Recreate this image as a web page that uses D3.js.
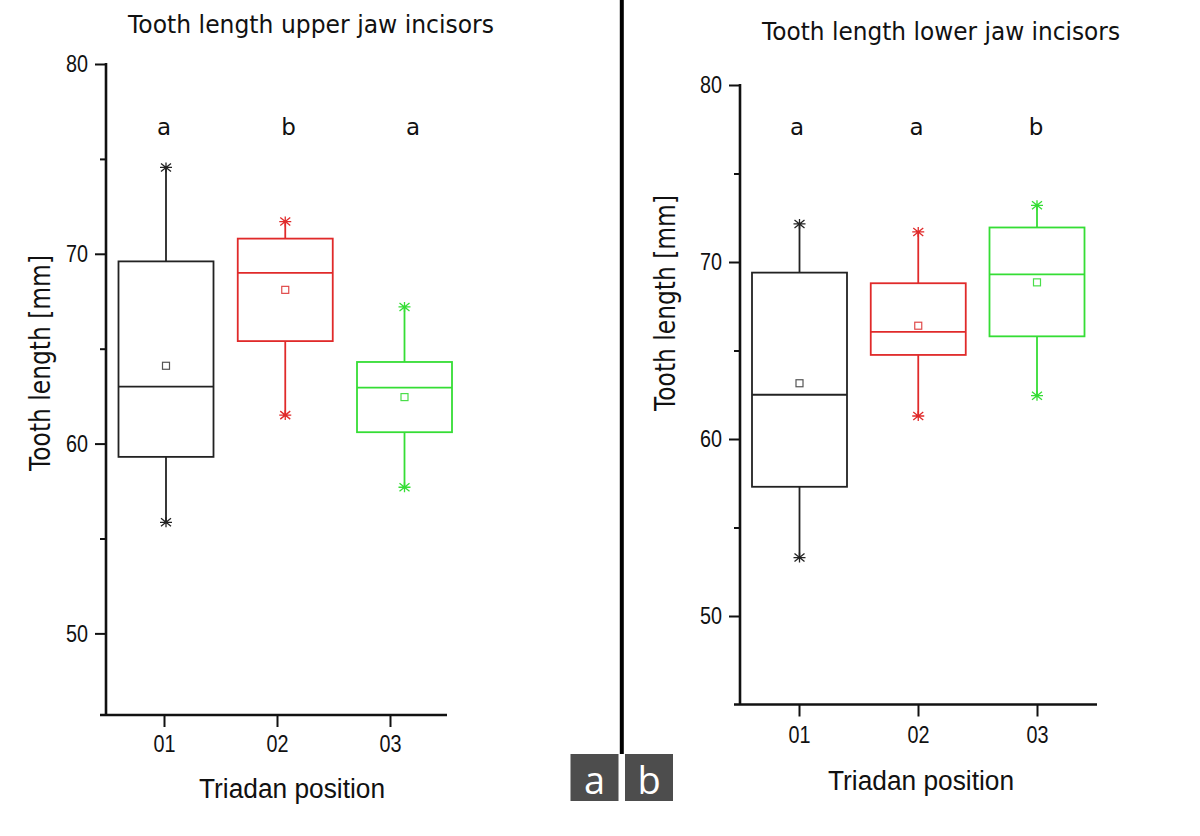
<!DOCTYPE html>
<html><head><meta charset="utf-8">
<script src="https://cdn.jsdelivr.net/npm/d3@7"></script>
<style>body{margin:0;background:#fff}svg{display:block}</style>
</head><body><svg id="c" width="1200" height="836"></svg>
<script>
// ---------- data ----------
const categories = ["01", "02", "03"];
const yTicks = [50, 60, 70, 80];
const yMinorTicks = [55, 65, 75];

const upperMin    = [55.85, 61.5, 57.7];
const upperQ1     = [59.3, 65.4, 60.6];
const upperMedian = [63.0, 69.0, 62.95];
const upperQ3     = [69.6, 70.8, 64.3];
const upperMax    = [74.55, 71.7, 67.2];
const upperMean   = [64.1, 68.1, 62.45];
const upperLetters = ["a", "b", "a"];

const lowerMin    = [53.3, 61.3, 62.45];
const lowerQ1     = [57.3, 64.75, 65.8];
const lowerMedian = [62.5, 66.05, 69.3];
const lowerQ3     = [69.4, 68.8, 71.95];
const lowerMax    = [72.15, 71.7, 73.2];
const lowerMean   = [63.15, 66.4, 68.85];
const lowerLetters = ["a", "a", "b"];

const seriesColors = ["#222222", "#e02a2a", "#35dd35"];
const meanColors   = ["#555555", "#e04a4a", "#4ade4a"];

// ---------- layout ----------
const panels = [
  { title: "Tooth length upper jaw incisors", titleX: 311, titleY: 33, titleLen: 366,
    domain: [45.7, 80], range: [715, 64], axisX: 106, xAxisY: 715, xAxisL: 100, xAxisR: 447,
    tickRange: [164, 390], boxRange: [166, 404.5], letterRange: [164, 413], boxW: 95,
    yTitleX: 50, yTitleY: 363, xTitleX: 292, xTitleY: 798, tickLabelY: 752, letterY: 135,
    letters: upperLetters,
    stats: { min: upperMin, q1: upperQ1, med: upperMedian, q3: upperQ3, max: upperMax, mean: upperMean } },
  { title: "Tooth length lower jaw incisors", titleX: 941, titleY: 40, titleLen: 358,
    domain: [45, 80], range: [704.5, 85], axisX: 740, xAxisY: 704.5, xAxisL: 734, xAxisR: 1097,
    tickRange: [799, 1037], boxRange: [799.5, 1037], letterRange: [797, 1036], boxW: 95,
    yTitleX: 675, yTitleY: 303, xTitleX: 921, xTitleY: 790, tickLabelY: 743, letterY: 135,
    letters: lowerLetters,
    stats: { min: lowerMin, q1: lowerQ1, med: lowerMedian, q3: lowerQ3, max: lowerMax, mean: lowerMean } }
];

const svg = d3.select("#c");
const titleFont = "'DejaVu Sans', Verdana, sans-serif";
const numFont = "'Liberation Sans', Arial, sans-serif";

panels.forEach(p => {
  const y = d3.scaleLinear().domain(p.domain).range(p.range);
  const xTick = d3.scalePoint().domain(categories).range(p.tickRange);
  const xBox = d3.scalePoint().domain(categories).range(p.boxRange);
  const xLetter = d3.scalePoint().domain(categories).range(p.letterRange);
  const g = svg.append("g");

  // title
  g.append("text").attr("x", p.titleX).attr("y", p.titleY)
    .attr("text-anchor", "middle").attr("font-family", titleFont).attr("font-size", 25)
    .attr("textLength", p.titleLen).attr("lengthAdjust", "spacingAndGlyphs")
    .attr("fill", "#111").text(p.title);

  // y axis major
  const yAx = g.append("g").attr("transform", `translate(${p.axisX},0)`)
    .call(d3.axisLeft(y).tickValues(yTicks).tickSize(11).tickSizeOuter(0).tickPadding(7).tickFormat(d3.format("d")));
  yAx.select(".domain").remove();
  yAx.selectAll(".tick line").attr("stroke", "#111").attr("stroke-width", 2);
  yAx.selectAll(".tick text").attr("font-family", numFont).attr("font-size", 24).attr("fill", "#111")
    .attr("textLength", 22).attr("lengthAdjust", "spacingAndGlyphs");
  // y axis minor
  const yMin = g.append("g").attr("transform", `translate(${p.axisX},0)`)
    .call(d3.axisLeft(y).tickValues(yMinorTicks).tickSize(6).tickFormat(""));
  yMin.select(".domain").remove();
  yMin.selectAll(".tick line").attr("stroke", "#111").attr("stroke-width", 2);
  // y axis line
  g.append("line").attr("x1", p.axisX).attr("x2", p.axisX)
    .attr("y1", y(80) - 1).attr("y2", p.xAxisY).attr("stroke", "#111").attr("stroke-width", 2.6);

  // x axis
  const xAx = g.append("g").attr("transform", `translate(0,${p.xAxisY})`)
    .call(d3.axisBottom(xTick).tickSize(12).tickSizeOuter(0));
  xAx.select(".domain").remove();
  xAx.selectAll(".tick line").attr("stroke", "#111").attr("stroke-width", 2);
  xAx.selectAll(".tick text").attr("font-family", numFont).attr("font-size", 24).attr("fill", "#111")
    .attr("y", p.tickLabelY - p.xAxisY).attr("dy", 0)
    .attr("textLength", 22).attr("lengthAdjust", "spacingAndGlyphs");
  g.append("line").attr("x1", p.xAxisL).attr("x2", p.xAxisR)
    .attr("y1", p.xAxisY).attr("y2", p.xAxisY).attr("stroke", "#111").attr("stroke-width", 2.6);

  // axis titles
  g.append("text").attr("transform", `translate(${p.yTitleX},${p.yTitleY}) rotate(-90)`)
    .attr("text-anchor", "middle").attr("font-family", titleFont).attr("font-size", 28)
    .attr("textLength", 216).attr("lengthAdjust", "spacingAndGlyphs")
    .attr("fill", "#111").text("Tooth length [mm]");
  g.append("text").attr("x", p.xTitleX).attr("y", p.xTitleY)
    .attr("text-anchor", "middle").attr("font-family", numFont).attr("font-size", 27)
    .attr("textLength", 186).attr("lengthAdjust", "spacingAndGlyphs")
    .attr("fill", "#111").text("Triadan position");

  // boxes
  const s = p.stats;
  const rows = categories.map((c, i) => ({ c, i, min: s.min[i], q1: s.q1[i], med: s.med[i], q3: s.q3[i], max: s.max[i], mean: s.mean[i], letter: p.letters[i] }));
  const star = "M-6,0H6M-5,-4L5,4M-5,4L5,-4M0,-5V5";
  const bg = g.selectAll(".box").data(rows).join("g").attr("class", "box");
  bg.append("line").attr("x1", d => xBox(d.c)).attr("x2", d => xBox(d.c))
    .attr("y1", d => y(d.q3)).attr("y2", d => y(d.max))
    .attr("stroke", d => seriesColors[d.i]).attr("stroke-width", 1.8);
  bg.append("line").attr("x1", d => xBox(d.c)).attr("x2", d => xBox(d.c))
    .attr("y1", d => y(d.q1)).attr("y2", d => y(d.min))
    .attr("stroke", d => seriesColors[d.i]).attr("stroke-width", 1.8);
  bg.append("rect").attr("x", d => xBox(d.c) - p.boxW / 2).attr("width", p.boxW)
    .attr("y", d => y(d.q3)).attr("height", d => y(d.q1) - y(d.q3))
    .attr("fill", "none").attr("stroke", d => seriesColors[d.i]).attr("stroke-width", 1.8);
  bg.append("line").attr("x1", d => xBox(d.c) - p.boxW / 2).attr("x2", d => xBox(d.c) + p.boxW / 2)
    .attr("y1", d => y(d.med)).attr("y2", d => y(d.med))
    .attr("stroke", d => seriesColors[d.i]).attr("stroke-width", 1.8);
  bg.append("rect").attr("x", d => xBox(d.c) - 3.5).attr("y", d => y(d.mean) - 3.5)
    .attr("width", 7).attr("height", 7).attr("fill", "none")
    .attr("stroke", d => meanColors[d.i]).attr("stroke-width", 1.2);
  ["min", "max"].forEach(k => {
    bg.append("path").attr("d", star)
      .attr("transform", d => `translate(${xBox(d.c)},${y(d[k])})`)
      .attr("fill", "none").attr("stroke", d => seriesColors[d.i]).attr("stroke-width", 1.3);
  });
  // significance letters
  g.selectAll(".letter").data(rows).join("text").attr("class", "letter")
    .attr("x", d => xLetter(d.c)).attr("y", p.letterY).attr("text-anchor", "middle")
    .attr("font-family", titleFont).attr("font-size", 23).attr("fill", "#111").text(d => d.letter);
});

// divider and panel labels
svg.append("rect").attr("x", 619.8).attr("y", 0).attr("width", 4).attr("height", 754).attr("fill", "#000");
const panelLabels = ["a", "b"];
const labelX = d3.scalePoint().domain(panelLabels).range([594.5, 649]);
const lg = svg.selectAll(".plab").data(panelLabels).join("g").attr("class", "plab");
lg.append("rect").attr("x", d => labelX(d) - 24).attr("y", 754).attr("width", 48).attr("height", 47).attr("fill", "#4d4d4d");
lg.append("text").attr("x", d => labelX(d)).attr("y", 794).attr("text-anchor", "middle")
  .attr("font-family", "'Open Sans', sans-serif").attr("font-size", 38).attr("fill", "#fff").text(d => d);
</script></body></html>
